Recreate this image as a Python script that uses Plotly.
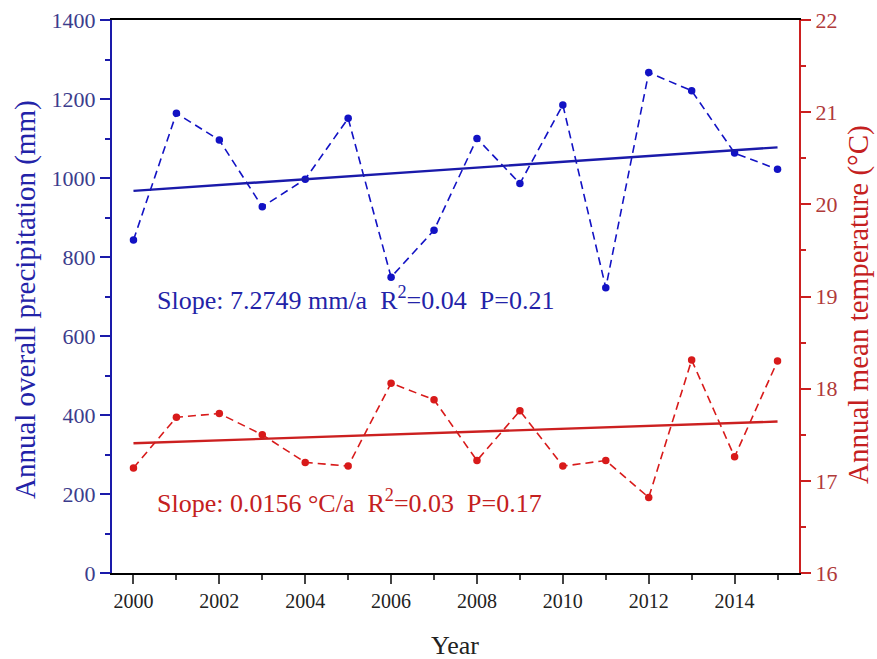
import numpy as np
import plotly.graph_objects as go

years = list(range(2000, 2016))
precip = [843, 1164, 1096, 927, 997, 1151, 749, 868, 1100, 986, 1185, 722, 1267, 1221, 1063, 1022]
temp = [17.14, 17.69, 17.73, 17.50, 17.20, 17.16, 18.06, 17.88, 17.22, 17.76, 17.16, 17.22, 16.82, 18.31, 17.26, 18.30]

blue = "#1212c4"
red = "#d81a1a"
font = "Liberation Serif, Times New Roman, serif"

pf = np.polyfit(years, precip, 1)
tf = np.polyfit(years, temp, 1)
pfit = list(np.polyval(pf, years))
tfit = list(np.polyval(tf, years))

fig = go.Figure()
fig.add_trace(go.Scatter(x=years, y=precip, mode="lines+markers",
                         line=dict(color=blue, width=1.6, dash="8px,5px"),
                         marker=dict(color=blue, size=7.5), showlegend=False))
fig.add_trace(go.Scatter(x=years, y=pfit, mode="lines",
                         line=dict(color="#1a1aaa", width=2.4), showlegend=False))
fig.add_trace(go.Scatter(x=years, y=temp, mode="lines+markers", yaxis="y2",
                         line=dict(color=red, width=1.6, dash="8px,5px"),
                         marker=dict(color=red, size=7.5), showlegend=False))
fig.add_trace(go.Scatter(x=years, y=tfit, mode="lines", yaxis="y2",
                         line=dict(color="#cc2020", width=2.4), showlegend=False))

W, H = 877, 659
L, T = 112, 20
R, B = W - 799, H - 573

fig.update_layout(
    width=W, height=H,
    margin=dict(l=L, r=R, t=T, b=B),
    plot_bgcolor="white", paper_bgcolor="white",
    font=dict(family=font, size=20, color="black"),
    xaxis=dict(range=[1999.5, 2015.5], tick0=2000, dtick=2, ticks="outside", ticklen=9,
               tickwidth=1.8, showgrid=False, zeroline=False, showline=True,
               linecolor="black", linewidth=2, mirror=True, automargin=False,
               minor=dict(dtick=1, ticks="outside", ticklen=5, tickwidth=1.8),
               tickfont=dict(size=20, color="#222222")),
    yaxis=dict(range=[0, 1400], dtick=200, ticks="outside", ticklen=10, tickwidth=1.8,
               tickcolor="#1a1aaa", showgrid=False, zeroline=False, showline=True,
               linecolor="#1a1aaa", linewidth=2, automargin=False, ticklabeloverflow="allow",
               minor=dict(dtick=100, ticks="outside", ticklen=5, tickwidth=1.8, tickcolor="#1a1aaa"),
               tickfont=dict(size=22, color="#3c3c8c")),
    yaxis2=dict(range=[16, 22], dtick=1, overlaying="y", side="right", ticks="outside",
                ticklen=10, tickwidth=1.8, tickcolor="#cc2020", showgrid=False, zeroline=False,
                showline=True, linecolor="#cc2020", linewidth=2, automargin=False,
                ticklabeloverflow="allow",
                minor=dict(dtick=0.5, ticks="outside", ticklen=5, tickwidth=1.8, tickcolor="#cc2020"),
                tickfont=dict(size=22, color="#b03a3a")),
    annotations=[
        dict(x=25, y=300, xref="paper", yref="paper", showarrow=False, textangle=-90,
             xanchor="center", yanchor="middle",
             text="Annual overall precipitation (mm)",
             font=dict(size=29, color="#2323a8", family=font)),
        dict(x=858, y=305, xref="paper", yref="paper", showarrow=False, textangle=-90,
             xanchor="center", yanchor="middle",
             text="Annual mean temperature (°C)",
             font=dict(size=29, color="#c42020", family=font)),
        dict(x=455, y=645, xref="paper", yref="paper", showarrow=False,
             xanchor="center", yanchor="middle",
             text="Year", font=dict(size=26, color="#222222", family=font)),
        dict(x=2000.5, y=696, xref="x", yref="y", xanchor="left", yanchor="middle",
             showarrow=False,
             text="Slope: 7.2749 mm/a  R<sup>2</sup>=0.04  P=0.21",
             font=dict(size=26, color="#2323a8", family=font)),
        dict(x=2000.5, y=180, xref="x", yref="y", xanchor="left", yanchor="middle",
             showarrow=False,
             text="Slope: 0.0156 °C/a  R<sup>2</sup>=0.03  P=0.17",
             font=dict(size=26, color="#c42020", family=font)),
    ],
)

# convert pixel positions of the axis-title annotations to paper coordinates
pw, ph = W - L - R, H - T - B
for a in fig.layout.annotations[:3]:
    a.x = (a.x - L) / pw
    a.y = 1 - (a.y - T) / ph

fig.write_html("out.html", config={"displayModeBar": False},
               post_script="document.body.style.margin='0';document.body.style.overflow='hidden';")
